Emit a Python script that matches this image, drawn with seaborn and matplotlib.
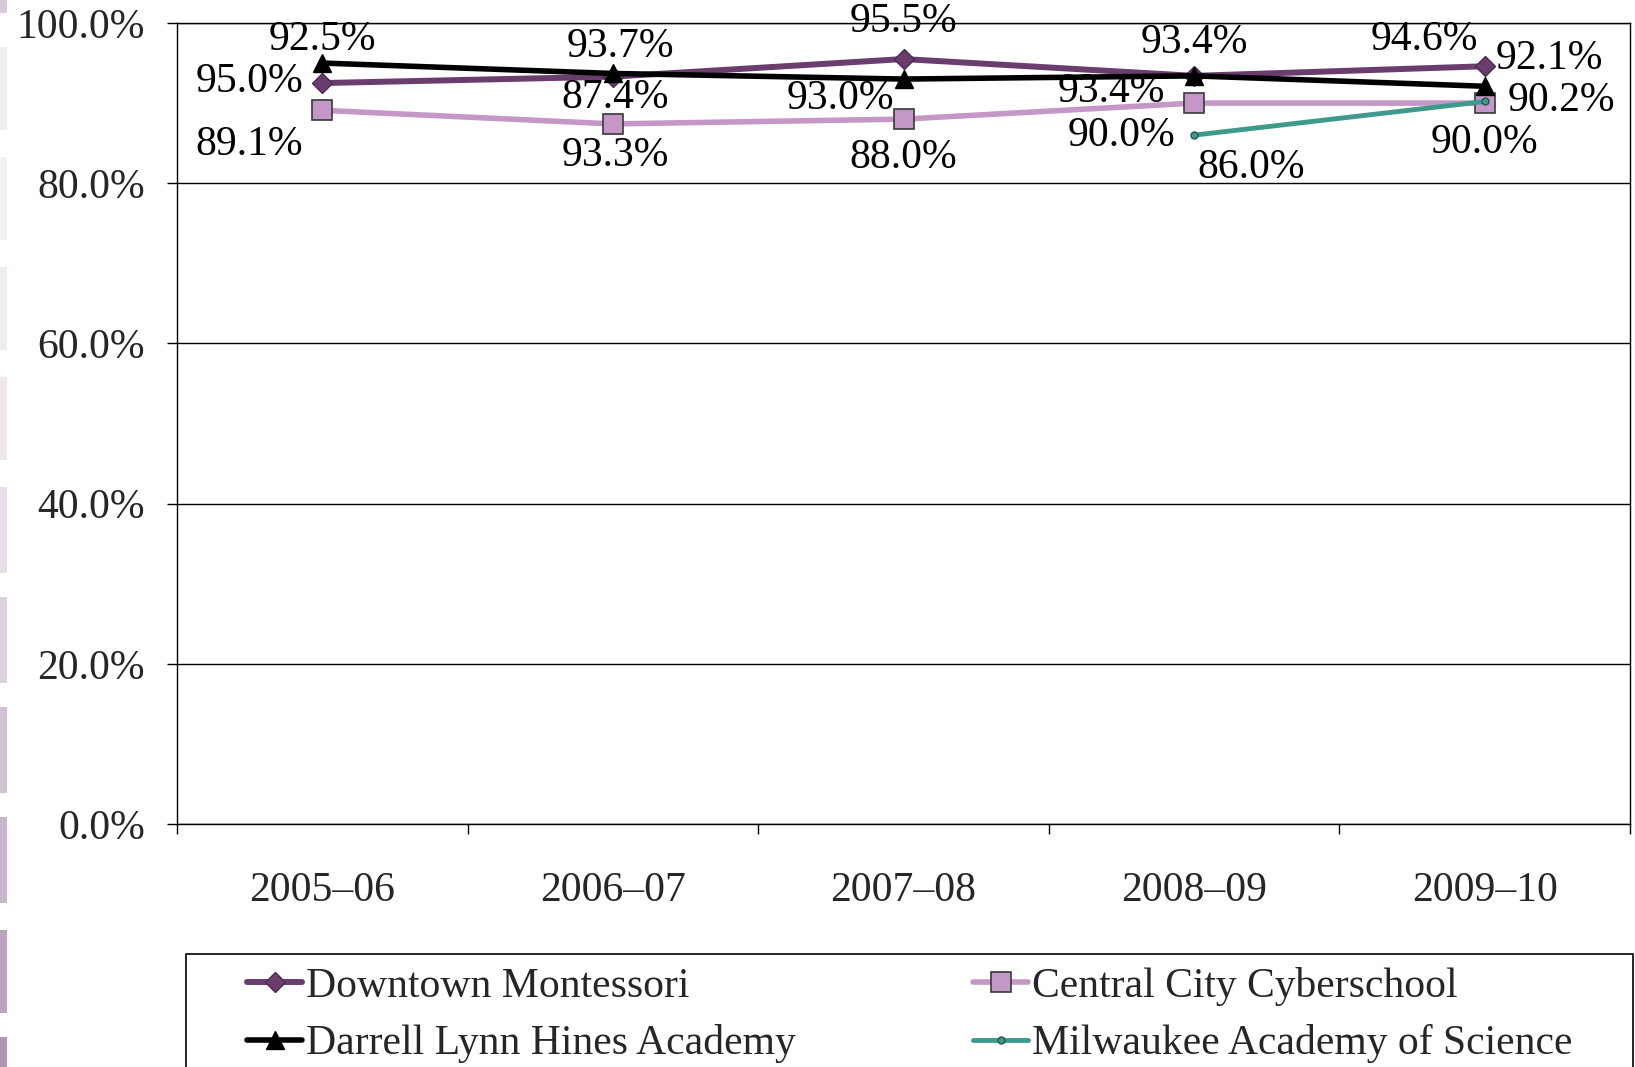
import numpy as np
import pandas as pd
import matplotlib
matplotlib.use("Agg")
import matplotlib.pyplot as plt
from matplotlib.patches import Rectangle
from matplotlib.ticker import FixedLocator, FuncFormatter
import seaborn as sns

# ---------------- data ----------------
years = ['2005–06', '2006–07', '2007–08', '2008–09', '2009–10']
downtown = [92.5, 93.3, 95.5, 93.4, 94.6]
hines = [95.0, 93.7, 93.0, 93.4, 92.1]
central = [89.1, 87.4, 88.0, 90.0, 90.0]
milwaukee = [np.nan, np.nan, np.nan, 86.0, 90.2]
series_names = ['Downtown Montessori', 'Darrell Lynn Hines Academy',
                'Central City Cyberschool', 'Milwaukee Academy of Science']
y_ticks = [0, 20, 40, 60, 80, 100]

# label offsets (pixels) for each point, per series
off_downtown = [(0, 43), (2, -79), (0, 37), (-83, -16), (-60, 27)]
off_hines = [(-73, -19), (7, 27), (-63, -20), (0, 33), (65, 28)]
off_central = [(-73, -34), (2, 26), (0, -39), (-73, -33), (0, -40)]
off_milwaukee = [None, None, None, (57, -33), (77, 1)]

sns.set_style("white")
plt.rcParams['font.family'] = ['Liberation Serif', 'DejaVu Serif']
FS = 30

W, H = 1635, 1067
fig = plt.figure(figsize=(W / 100, H / 100), dpi=100)
ax = fig.add_axes([177 / W, 1 - 824 / H, (1630 - 177) / W, (824 - 23) / H])

rows = []
for name, vals in zip(series_names, [downtown, hines, central, milwaukee]):
    for yr, v in zip(years, vals):
        rows.append({'school': name, 'year': yr, 'value': v})
df = pd.DataFrame(rows)

styles = {
    'Central City Cyberschool': dict(color='#C597C6', marker='s', markersize=14,
                                     markerfacecolor='#C597C6', markeredgecolor='#3A3A3A',
                                     markeredgewidth=1.2, linewidth=4.0),
    'Downtown Montessori': dict(color='#6B3D6F', marker='D', markersize=10,
                                markerfacecolor='#6B3D6F', markeredgecolor='#4A2A4E',
                                markeredgewidth=1.0, linewidth=4.3),
    'Darrell Lynn Hines Academy': dict(color='#000000', marker='^', markersize=13,
                                       markerfacecolor='#000000', markeredgecolor='#000000',
                                       markeredgewidth=1.0, linewidth=4.0),
    'Milwaukee Academy of Science': dict(color='#3E9A8C', marker='o', markersize=5,
                                         markerfacecolor='#3E9A8C', markeredgecolor='#1E5A50',
                                         markeredgewidth=1.0, linewidth=3.5),
}

# establish category order
ax.plot(years, [np.nan] * len(years))

handles = {}
for name in ['Central City Cyberschool', 'Downtown Montessori',
             'Darrell Lynn Hines Academy', 'Milwaukee Academy of Science']:
    sub = df[df['school'] == name].dropna()
    n_before = len(ax.lines)
    sns.lineplot(data=sub, x='year', y='value', ax=ax, sort=False,
                 label=name, legend=False, **styles[name])
    handles[name] = ax.lines[n_before]

# data labels
for vals, offs in zip([downtown, hines, central, milwaukee],
                      [off_downtown, off_hines, off_central, off_milwaukee]):
    for i, (v, o) in enumerate(zip(vals, offs)):
        if np.isnan(v) or o is None:
            continue
        ax.annotate(f"{v:.1f}%", xy=(i, v), xytext=o, textcoords='offset pixels',
                    ha='center', va='center', fontsize=FS, color='black',
                    annotation_clip=False, zorder=10)

ax.set_xlim(-0.5, len(years) - 0.5)
ax.set_ylim(0, 100)
ax.yaxis.set_major_locator(FixedLocator(y_ticks))
ax.yaxis.set_major_formatter(FuncFormatter(lambda v, p: f"{v:.1f}%"))
ax.grid(axis='y', color='black', linewidth=1.0)
ax.grid(axis='x', visible=False)
ax.set_axisbelow(True)
ax.set_xlabel('')
ax.set_ylabel('')

ax.xaxis.set_minor_locator(FixedLocator(np.arange(-0.5, len(years), 1.0)))
ax.tick_params(axis='x', which='major', length=0, pad=34, labelsize=FS)
ax.tick_params(axis='x', which='minor', length=7, width=1.0, color='black', direction='out',
               bottom=True)
ax.tick_params(axis='y', which='major', length=7, width=1.0, color='black', direction='out',
               pad=16, labelsize=FS, left=True)
for s in ax.spines.values():
    s.set_color('black')
    s.set_linewidth(1.0)
    s.set_visible(True)

# legend
order = ['Downtown Montessori', 'Darrell Lynn Hines Academy',
         'Central City Cyberschool', 'Milwaukee Academy of Science']
leg = fig.legend([handles[n] for n in order], order, ncol=2, loc='upper left',
                 bbox_to_anchor=(247 / W, 1 - 967 / H), frameon=False, fontsize=FS,
                 borderpad=0, borderaxespad=0, handlelength=1.32, handletextpad=0.1,
                 labelspacing=0.44, columnspacing=4.25, numpoints=1)

fig.add_artist(Rectangle((186 / W, -0.05), (1633 - 186) / W, (1067 - 954) / H + 0.05,
                         transform=fig.transFigure, fill=False, edgecolor='black',
                         linewidth=1.2))

# decorative left strip
strip_segments = [(0, 13, '#D9CADB'), (47, 130, '#F2EEF2'), (157, 240, '#F4F1F4'),
                  (267, 350, '#F1ECF1'), (377, 460, '#EEE7EE'), (487, 573, '#E7DEE8'),
                  (597, 683, '#DDD0DF'), (707, 793, '#D2C2D5'), (817, 903, '#C8B4CB'),
                  (930, 1013, '#BCA3C0'), (1037, 1067, '#B095B5')]
for y0, y1, c in strip_segments:
    fig.add_artist(Rectangle((0, 1 - y1 / H), 7 / W, (y1 - y0) / H,
                             transform=fig.transFigure, color=c, linewidth=0))

fig.savefig('out.png', dpi=100)
